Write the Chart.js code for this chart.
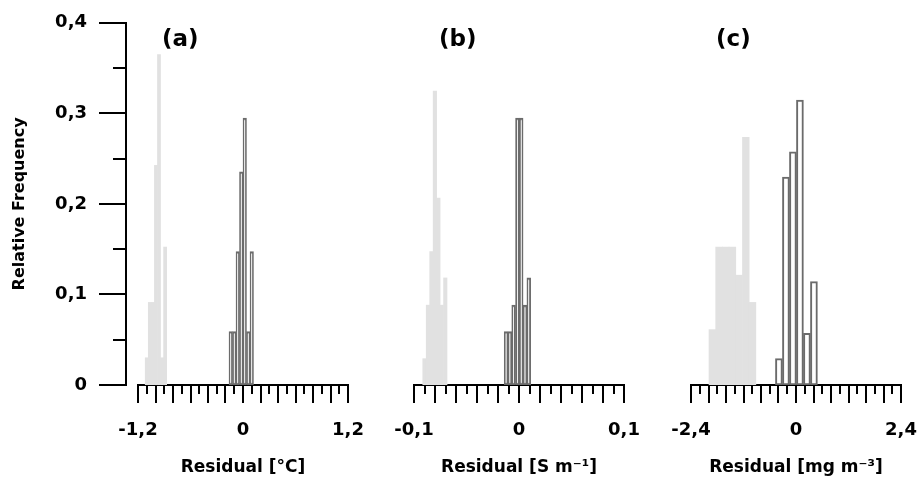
<!DOCTYPE html>
<html>
<head>
<meta charset="utf-8">
<script src="https://cdn.jsdelivr.net/npm/chart.js@4.4.1/dist/chart.umd.min.js"></script>
<style>
  html, body { margin: 0; padding: 0; background: #fff; }
  #wrap { position: relative; width: 920px; height: 485px; overflow: hidden; }
  canvas { position: absolute; top: 0; }
  .tag { position: absolute; top: 26px; font: bold 23px "DejaVu Sans", Verdana, sans-serif; line-height: 24px; color: #000; }
</style>
</head>
<body>
<div id="wrap">
  <canvas id="cy" width="140" height="485" style="left:0"></canvas>
  <canvas id="ca" width="290" height="485" style="left:98px"></canvas>
  <canvas id="cb" width="290" height="485" style="left:374px"></canvas>
  <canvas id="cc" width="290" height="485" style="left:651px"></canvas>
  <div class="tag" style="left:162px">(a)</div>
  <div class="tag" style="left:439px">(b)</div>
  <div class="tag" style="left:716px">(c)</div>
</div>
<script>
// y axis (shared)
const yTickVals = [0, 0.1, 0.2, 0.3, 0.4];
const yTickLabels = ['0', '0,1', '0,2', '0,3', '0,4'];

// (a) temperature residuals
const aLightX = [-1.100, -1.065, -1.030, -0.995, -0.960, -0.925, -0.890];
const aLightY = [0.030, 0.091, 0.091, 0.242, 0.364, 0.030, 0.152];
const aDarkX = [-0.14, -0.10, -0.06, -0.02, 0.02, 0.06, 0.10];
const aDarkY = [0.059, 0.059, 0.147, 0.235, 0.294, 0.059, 0.147];
const aTickVals = [-1.2, 0, 1.2];
const aTickLabels = ['-1,2', '0', '1,2'];

// (b) conductivity residuals
const bLightX = [-0.0900, -0.0867, -0.0834, -0.0801, -0.0768, -0.0735, -0.0702];
const bLightY = [0.029, 0.088, 0.147, 0.324, 0.206, 0.088, 0.118];
const bDarkX = [-0.0123, -0.0087, -0.0051, -0.0015, 0.0021, 0.0057, 0.0093];
const bDarkY = [0.059, 0.059, 0.088, 0.294, 0.294, 0.088, 0.118];
const bTickVals = [-0.1, 0, 0.1];
const bTickLabels = ['-0,1', '0', '0,1'];

// (c) chlorophyll residuals
const cLightX = [-1.912, -1.759, -1.606, -1.453, -1.300, -1.147, -0.994];
const cLightY = [0.061, 0.152, 0.152, 0.152, 0.121, 0.273, 0.091];
const cDarkX = [-0.39, -0.23, -0.07, 0.09, 0.25, 0.41];
const cDarkY = [0.029, 0.229, 0.257, 0.314, 0.057, 0.114];
const cTickVals = [-2.4, 0, 2.4];
const cTickLabels = ['-2,4', '0', '2,4'];

Chart.defaults.font.family = '"DejaVu Sans", Verdana, sans-serif';
Chart.defaults.font.weight = 'bold';
Chart.defaults.color = '#000';

// short ticks between the long ones
const minorTicks = {
  id: 'minorTicks',
  afterDraw(chart, args, opts) {
    const ctx = chart.ctx;
    ctx.save();
    ctx.strokeStyle = '#000';
    ctx.lineWidth = 2;
    ['x', 'y'].forEach(id => {
      const s = chart.scales[id];
      if (!s || !s.options.display) return;
      s.ticks.forEach((t, i) => {
        if (i % 2 === 0) return;
        const p = Math.round(s.getPixelForTick(i));
        ctx.beginPath();
        if (id === 'x') { ctx.moveTo(p, s.top); ctx.lineTo(p, s.top + opts.len); }
        else { ctx.moveTo(s.right - opts.len, p); ctx.lineTo(s.right, p); }
        ctx.stroke();
      });
    });
    ctx.restore();
  }
};

const tickColor = c => (c.index % 2 ? 'rgba(0,0,0,0)' : '#000');

function labelFor(vals, labels, v) {
  const i = vals.findIndex(t => Math.abs(t - v) < 1e-9);
  return i < 0 ? '' : labels[i];
}

// y axis only
new Chart(document.getElementById('cy'), {
  type: 'bar',
  data: { datasets: [] },
  plugins: [minorTicks],
  options: {
    responsive: false,
    animation: false,
    events: [],
    layout: { padding: { top: 22, bottom: 100, left: 0, right: 0 } },
    plugins: { legend: { display: false }, tooltip: { enabled: false }, minorTicks: { len: 13 } },
    scales: {
      x: { type: 'linear', display: false, min: 0, max: 1 },
      y: {
        min: 0, max: 0.4,
        afterFit: s => { s.width = 126; },
        border: { display: true, color: '#000', width: 2 },
        grid: { drawOnChartArea: false, tickLength: 27, lineWidth: 2, color: '#000', tickColor: tickColor },
        ticks: {
          stepSize: 0.05, autoSkip: false, padding: 12,
          font: { size: 18, weight: 'bold' },
          callback: v => labelFor(yTickVals, yTickLabels, v)
        },
        title: { display: true, text: 'Relative Frequency', font: { size: 16, weight: 'bold' }, padding: { top: 10, bottom: 0 } }
      }
    }
  }
});

function panel(id, lightX, lightY, darkX, darkY, range, step, tickVals, tickLabels, title) {
  const barOpts = { barThickness: 'flex', barPercentage: 1, categoryPercentage: 1, stack: 'hist' };
  new Chart(document.getElementById(id), {
    type: 'bar',
    data: {
      datasets: [
        Object.assign({
          data: lightX.map((x, i) => ({ x: x, y: lightY[i] })),
          backgroundColor: '#e1e1e1',
          borderWidth: 0
        }, barOpts),
        Object.assign({
          data: darkX.map((x, i) => ({ x: x, y: darkY[i] })),
          backgroundColor: '#ffffff',
          borderColor: '#6b6b6b',
          borderWidth: 2,
          borderSkipped: false
        }, barOpts)
      ]
    },
    plugins: [minorTicks],
    options: {
      responsive: false,
      animation: false,
      events: [],
      layout: { padding: { top: 22, bottom: 0, left: 40, right: 40 } },
      plugins: { legend: { display: false }, tooltip: { enabled: false }, minorTicks: { len: 9 } },
      scales: {
        x: {
          type: 'linear', min: -range, max: range, z: 1, offset: false,
          afterFit: s => { s.height = 100; },
          border: { display: true, color: '#000', width: 2 },
          grid: { offset: false, drawOnChartArea: false, tickLength: 18, lineWidth: 2, color: '#000', tickColor: tickColor },
          ticks: {
            stepSize: step, autoSkip: false, maxRotation: 0, padding: 17,
            font: { size: 18, weight: 'bold' },
            callback: v => labelFor(tickVals, tickLabels, v)
          },
          title: { display: true, text: title, font: { size: 17, weight: 'bold' }, padding: { top: 0, bottom: 7 } }
        },
        y: { display: false, min: 0, max: 0.4 }
      }
    }
  });
}

panel('ca', aLightX, aLightY, aDarkX, aDarkY, 1.2, 0.1, aTickVals, aTickLabels, 'Residual [°C]');
panel('cb', bLightX, bLightY, bDarkX, bDarkY, 0.1, 0.01, bTickVals, bTickLabels, 'Residual [S m⁻¹]');
panel('cc', cLightX, cLightY, cDarkX, cDarkY, 2.4, 0.2, cTickVals, cTickLabels, 'Residual [mg m⁻³]');
</script>
</body>
</html>
